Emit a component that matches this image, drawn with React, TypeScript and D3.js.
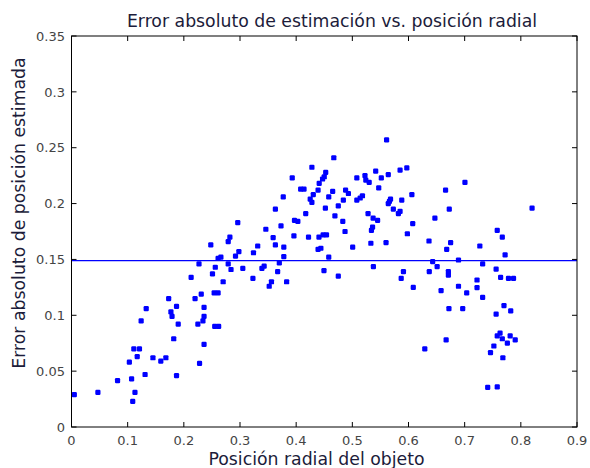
import React from "react";
import * as d3 from "d3";

const xs: number[] = [
  0.005, 0.047, 0.082, 0.109, 0.113, 0.107, 0.131, 0.103, 0.111, 0.121,
  0.117, 0.124, 0.133, 0.145, 0.159, 0.168, 0.187, 0.182, 0.19, 0.173,
  0.177, 0.179, 0.187, 0.228, 0.225, 0.234, 0.236, 0.236, 0.236, 0.22,
  0.231, 0.213, 0.227, 0.255, 0.262, 0.254, 0.261, 0.27, 0.251, 0.256,
  0.284, 0.279, 0.261, 0.266, 0.292, 0.298, 0.248, 0.279, 0.282, 0.296,
  0.305, 0.324, 0.3315, 0.323, 0.339, 0.343, 0.356, 0.352, 0.346, 0.359,
  0.363, 0.373, 0.363, 0.378, 0.378, 0.37, 0.367, 0.383, 0.377, 0.396,
  0.397, 0.403, 0.393, 0.408, 0.414, 0.417, 0.422, 0.428, 0.428, 0.4305,
  0.425, 0.439, 0.441, 0.447, 0.45, 0.4526, 0.452, 0.4406, 0.448, 0.454,
  0.439, 0.444, 0.458, 0.4495, 0.458, 0.561, 0.467, 0.465, 0.469, 0.475,
  0.484, 0.488, 0.493, 0.483, 0.487, 0.475, 0.5006, 0.508, 0.5225, 0.524,
  0.53, 0.5416, 0.5516, 0.547, 0.564, 0.585, 0.597, 0.508, 0.514, 0.518,
  0.528, 0.537, 0.545, 0.536, 0.534, 0.533, 0.56, 0.5375, 0.568, 0.564,
  0.566, 0.573, 0.582, 0.585, 0.588, 0.606, 0.6075, 0.598, 0.591, 0.587,
  0.6085, 0.6365, 0.647, 0.666, 0.6726, 0.668, 0.643, 0.651, 0.637, 0.671,
  0.658, 0.672, 0.7005, 0.82, 0.758, 0.767, 0.727, 0.675, 0.772, 0.689,
  0.671, 0.732, 0.756, 0.764, 0.778, 0.787, 0.689, 0.722, 0.722, 0.7036,
  0.732, 0.6965, 0.756, 0.77, 0.782, 0.667, 0.629, 0.763, 0.758, 0.767,
  0.781, 0.776, 0.79, 0.752, 0.746, 0.768, 0.741, 0.758,
];

const ys: number[] = [
  0.029, 0.031, 0.0415, 0.023, 0.031, 0.043, 0.047, 0.058, 0.07, 0.07,
  0.063, 0.095, 0.106, 0.062, 0.059, 0.062, 0.046, 0.079, 0.092, 0.115,
  0.103, 0.099, 0.108, 0.057, 0.092, 0.095, 0.099, 0.107, 0.074, 0.115,
  0.119, 0.134, 0.146, 0.09, 0.09, 0.12, 0.12, 0.13, 0.137, 0.143,
  0.141, 0.146, 0.151, 0.152, 0.153, 0.157, 0.163, 0.166, 0.17, 0.183,
  0.142, 0.156, 0.162, 0.133, 0.142, 0.144, 0.13, 0.126, 0.177, 0.1695,
  0.163, 0.18, 0.195, 0.161, 0.1525, 0.147, 0.139, 0.13, 0.206, 0.171,
  0.185, 0.184, 0.223, 0.213, 0.213, 0.191, 0.17, 0.2325, 0.201, 0.208,
  0.204, 0.212, 0.218, 0.222, 0.224, 0.228, 0.196, 0.17, 0.172, 0.172,
  0.159, 0.16, 0.152, 0.14, 0.206, 0.257, 0.241, 0.211, 0.189, 0.198,
  0.203, 0.212, 0.209, 0.184, 0.175, 0.135, 0.161, 0.223, 0.225, 0.221,
  0.219, 0.229, 0.223, 0.214, 0.226, 0.23, 0.232, 0.203, 0.205, 0.207,
  0.191, 0.187, 0.185, 0.179, 0.176, 0.1645, 0.165, 0.1435, 0.204, 0.2,
  0.202, 0.195, 0.191, 0.193, 0.203, 0.208, 0.182, 0.173, 0.139, 0.133,
  0.125, 0.1665, 0.187, 0.212, 0.195, 0.159, 0.148, 0.1435, 0.139, 0.139,
  0.122, 0.106, 0.219, 0.196, 0.176, 0.17, 0.162, 0.165, 0.154, 0.1495,
  0.136, 0.146, 0.1414, 0.134, 0.133, 0.133, 0.126, 0.1316, 0.1247, 0.12,
  0.116, 0.106, 0.101, 0.1086, 0.104, 0.078, 0.07, 0.084, 0.0815, 0.079,
  0.0815, 0.075, 0.078, 0.0725, 0.0665, 0.062, 0.0355, 0.036,
];

const meanLevel = 0.149;
const xTicks: number[] = [0, 0.1, 0.2, 0.3, 0.4, 0.5, 0.6, 0.7, 0.8, 0.9];
const yTicks: number[] = [0, 0.05, 0.1, 0.15, 0.2, 0.25, 0.3, 0.35];
const titleText = "Error absoluto de estimación vs. posición radial";
const xLabelText = "Posición radial del objeto";
const yLabelText = "Error absoluto de posición estimada";

const W = 590;
const H = 468;
const L = 71.5;
const R = 577;
const T = 36;
const B = 427;
const FONT = "'DejaVu Sans', Tahoma, sans-serif";
const LABEL_COLOR = "#1c1c3a";
const TICK_COLOR = "#444";

export default function App() {
  const x = d3.scaleLinear().domain([0, 0.9]).range([L, R]);
  const y = d3.scaleLinear().domain([0, 0.35]).range([B, T]);
  const fmt = (v: number) => (v === 0 ? "0" : String(+v.toFixed(2)));
  const tl = 5;
  const pts = xs.map((v, i) => [v, ys[i]]);
  return (
    <svg
      width={W}
      height={H}
      style={{ position: "absolute", left: 0, top: 0, background: "#fff" }}
    >
      <rect x={0} y={0} width={W} height={H} fill="#fff" />
      <text x={332} y={27} textAnchor="middle" fontFamily={FONT} fontSize={17.3} fill={LABEL_COLOR}>
        {titleText}
      </text>
      {pts.map((p, i) => (
        <rect
          key={i}
          x={x(p[0]) - 2.6}
          y={y(p[1]) - 2.6}
          width={5.2}
          height={5.2}
          rx={1.2}
          fill="#0000ff"
        />
      ))}
      <line
        x1={x(0)}
        x2={x(0.9)}
        y1={y(meanLevel)}
        y2={y(meanLevel)}
        stroke="#0000ff"
        strokeWidth={1.3}
      />
      <rect x={L} y={T} width={R - L} height={B - T} fill="none" stroke="#000" strokeWidth={1} />
      {xTicks.map((t) => (
        <g key={"x" + t}>
          <line x1={x(t)} x2={x(t)} y1={B} y2={B - tl} stroke="#000" />
          <line x1={x(t)} x2={x(t)} y1={T} y2={T + tl} stroke="#000" />
          <text x={x(t)} y={445} textAnchor="middle" fontFamily={FONT} fontSize={13} fill={TICK_COLOR}>
            {fmt(t)}
          </text>
        </g>
      ))}
      {yTicks.map((t) => (
        <g key={"y" + t}>
          <line x1={L} x2={L + tl} y1={y(t)} y2={y(t)} stroke="#000" />
          <line x1={R} x2={R - tl} y1={y(t)} y2={y(t)} stroke="#000" />
          <text x={65} y={y(t) + 4.7} textAnchor="end" fontFamily={FONT} fontSize={13} fill={TICK_COLOR}>
            {fmt(t)}
          </text>
        </g>
      ))}
      <text x={316.5} y={465} textAnchor="middle" fontFamily={FONT} fontSize={17.3} fill={LABEL_COLOR}>
        {xLabelText}
      </text>
      <text
        transform={`translate(25,213) rotate(-90)`}
        textAnchor="middle"
        fontFamily={FONT}
        fontSize={17.3}
        fill={LABEL_COLOR}
      >
        {yLabelText}
      </text>
    </svg>
  );
}
